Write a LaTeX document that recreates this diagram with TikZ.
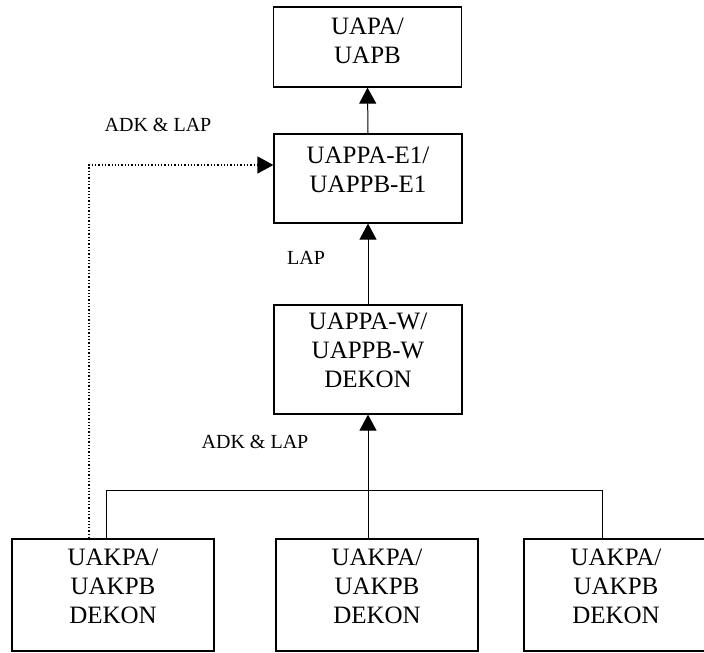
\documentclass[tikz,border=0pt]{standalone}
\usepackage{fontspec}
\setmainfont{Liberation Serif}
\usetikzlibrary{arrows.meta,positioning,calc}

\begin{document}
\begin{tikzpicture}[>={Triangle[length=16pt,width=17pt]},x=1pt,y=1pt,
  unit/.style={draw,line width=1.2pt,inner sep=0pt,align=center,
    font=\fontsize{25}{29}\selectfont,text depth=18pt,minimum width=188pt},
  lbl/.style={font=\fontsize{20}{24}\selectfont}]
\useasboundingbox (0,0) rectangle (704,653);
\node[unit,minimum height=80pt,text depth=12pt] (pusat) at (367.5,606){UAPA/\\UAPB};
\node[unit,minimum height=89pt] (eselon) at (368,474.5){UAPPA-E1/\\UAPPB-E1};
\node[unit,minimum height=109pt] (wil) at (368,293.5){UAPPA-W/\\UAPPB-W\\DEKON};
\node[unit,minimum height=112pt,minimum width=202pt] (satA) at (113,58){UAKPA/\\UAKPB\\DEKON};
\node[unit,minimum height=112pt,minimum width=202pt] (satB) at (377,58){UAKPA/\\UAKPB\\DEKON};
\node[unit,minimum height=112pt,minimum width=184pt] (satC) at (616,58){UAKPA/\\UAKPB\\DEKON};
\node[lbl] (lapA) at (158,528){ADK \& LAP};
\node[lbl] (lapB) at (306,395){LAP};
\node[lbl] (lapC) at (255,211){ADK \& LAP};
\draw[->,line width=1pt] (eselon.north) -- (pusat.south);
\draw[->,line width=1pt] (wil.north) -- (eselon.south);
\draw[->,line width=1pt] (satB.north -| wil.south) -- (wil.south);
% garis gabungan satker
\coordinate (busL) at (106,162);\coordinate (busR) at (602,162);
\draw[line width=1pt] (satA.north -| busL) -- (busL) -- (busR) -- (satC.north -| busR);
% jalur langsung ke eselon I
\coordinate (dotc) at (89,488);
\draw[->,dotted,line width=1.3pt] (satA.north -| dotc) -- (dotc) -- (dotc -| eselon.west);
\end{tikzpicture}
\end{document}
